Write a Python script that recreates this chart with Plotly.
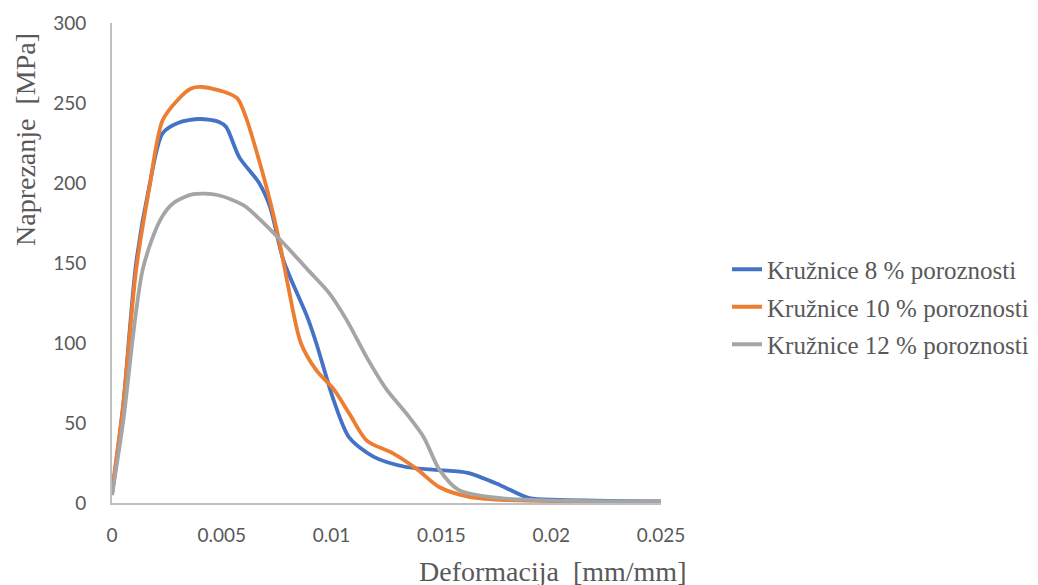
import plotly.graph_objects as go

# Data
x8 = [0, 0.0005, 0.0011, 0.0017, 0.0023, 0.003, 0.004, 0.0049, 0.0052, 0.0058, 0.0067, 0.0072,
      0.0078, 0.0089, 0.0093, 0.0101, 0.0108, 0.0119, 0.0134, 0.0149, 0.0162, 0.0177, 0.019, 0.0204, 0.025]
y8 = [5, 60, 150, 198, 231, 237.5, 240, 238, 235, 216, 200, 185,
      152, 116, 100, 64, 41, 29, 22.5, 20.6, 18.8, 11, 3, 2, 1]

x10 = [0, 0.0005, 0.0011, 0.0017, 0.0023, 0.003, 0.0036, 0.0041, 0.0051, 0.0057, 0.0061, 0.0067,
       0.0073, 0.0077, 0.008, 0.0086, 0.0093, 0.0101, 0.0108, 0.0116, 0.0128, 0.0139, 0.0149,
       0.0162, 0.0177, 0.025]
y10 = [8, 60, 146, 197, 239, 252, 259, 260, 257, 253, 241, 214,
       183, 158, 137, 100, 83, 71, 56, 39, 31, 21, 10,
       4, 2, 0.5]

x12 = [0, 0.0005, 0.0014, 0.0022, 0.0028, 0.0037, 0.0048, 0.006, 0.0066, 0.0078, 0.0089, 0.0099,
       0.0107, 0.0116, 0.0125, 0.0134, 0.0142, 0.0149, 0.0158, 0.0177, 0.025]
y12 = [5, 50, 146, 177, 187.5, 193, 192.5, 186, 179, 162.5, 146, 131,
       114, 91, 71, 56, 41, 21, 8, 3, 1]

names = ["Kružnice 8 % poroznosti", "Kružnice 10 % poroznosti", "Kružnice 12 % poroznosti"]
colors = ["#4472C4", "#ED7D31", "#A5A5A5"]

x_ticks = [0, 0.005, 0.01, 0.015, 0.02, 0.025]
x_tick_labels = ["0", "0.005", "0.01", "0.015", "0.02", "0.025"]
y_ticks = [0, 50, 100, 150, 200, 250, 300]

fig = go.Figure()
for i, (xs, ys, n, c) in enumerate(zip([x8, x10, x12], [y8, y10, y12], names, colors)):
    fig.add_trace(go.Scatter(x=xs, y=ys, mode="lines", name=n, legendgroup=f"g{i}",
                             line=dict(color=c, width=3.8, shape="spline", smoothing=0.8)))

tick_font = dict(family="Lato, Carlito, Calibri, sans-serif", size=19, color="#595959")
serif = "Liberation Serif, Times New Roman, serif"

# page body has an 8px margin; figure coordinates are offset accordingly.
# Figure is larger than the window so nothing pushes the margins or clips.
W, H = 1100, 600
L, T = 104, 15
R = W - 653
B = H - 495
pw, ph = W - L - R, H - T - B

fig.update_layout(
    width=W, height=H,
    margin=dict(l=L, r=R, t=T, b=B, autoexpand=False),
    paper_bgcolor="white", plot_bgcolor="white",
    showlegend=True,
    legend=dict(x=(719 - L) / pw, y=(495 - 299) / ph, xanchor="left", yanchor="middle",
                font=dict(family=serif, size=25, color="#595959"),
                traceorder="grouped", tracegroupgap=2, itemwidth=30,
                bgcolor="rgba(0,0,0,0)"),
    xaxis=dict(range=[0, 0.025], tickvals=x_ticks, ticktext=x_tick_labels,
               showgrid=False, zeroline=False, showline=True, linecolor="#BFBFBF", linewidth=2,
               ticks="", tickfont=tick_font, ticklabelstandoff=14),
    yaxis=dict(range=[0, 300], tickvals=y_ticks,
               showgrid=False, zeroline=False, showline=True, linecolor="#BFBFBF", linewidth=2,
               ticks="", tickfont=tick_font, ticklabelstandoff=20),
    annotations=[
        dict(text="Deformacija\u00a0 [mm/mm]", xref="paper", yref="paper",
             x=(680 - L) / pw, y=-(563 - 495) / ph, xanchor="right", yanchor="middle",
             showarrow=False, font=dict(family=serif, size=28, color="#595959")),
        dict(text="Naprezanje\u00a0 [MPa]", xref="paper", yref="paper",
             x=-(L - 17) / pw, y=(495 - 132) / ph, xanchor="center", yanchor="middle",
             textangle=-90, showarrow=False, font=dict(family=serif, size=28, color="#595959")),
    ],
)

fig.write_html("out.html")
